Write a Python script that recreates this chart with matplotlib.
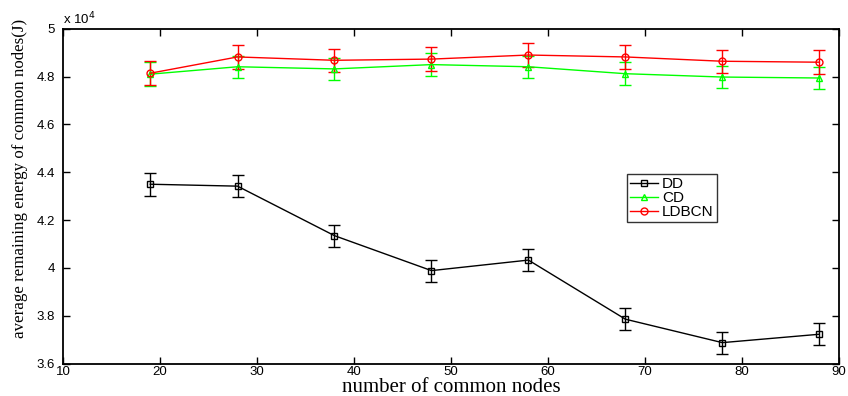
import numpy as np
import matplotlib.pyplot as plt
from matplotlib.ticker import FuncFormatter
from matplotlib.lines import Line2D

# === DANE ===
nodes = [19, 28, 38, 48, 58, 68, 78, 88]

dd = [43500, 43420, 41350, 39890, 40330, 37860, 36880, 37230]
dd_err = [480, 470, 460, 460, 460, 460, 460, 460]

cd = [48100, 48410, 48320, 48500, 48410, 48120, 47980, 47940]
cd_err = [490, 470, 470, 470, 470, 470, 470, 470]

ldbcn = [48140, 48820, 48680, 48730, 48900, 48820, 48640, 48600]
ldbcn_err = [500, 490, 490, 490, 490, 490, 490, 490]

series = [
    ("DD", dd, dd_err, "black", "s"),
    ("CD", cd, cd_err, "#00ff00", "^"),
    ("LDBCN", ldbcn, ldbcn_err, "red", "o"),
]

plt.rcParams['font.family'] = ['Liberation Sans', 'DejaVu Sans']

fig = plt.figure(figsize=(8.48, 3.96), dpi=100)
ax = fig.add_axes([0.0743, 0.0816, 0.9147, 0.8459])

handles = []
for label, vals, errs, color, marker in series:
    ax.errorbar(nodes, vals, yerr=errs, color=color, marker=marker,
                markersize=5, markerfacecolor='none', markeredgecolor=color,
                linewidth=1, elinewidth=1, capsize=4.5, capthick=1)
    handles.append(Line2D([], [], color=color, marker=marker, markersize=5,
                          markerfacecolor='none', linewidth=1, label=label))

ax.set_xlim(10, 90)
ax.set_ylim(36000, 50000)
ax.set_xticks(np.arange(10, 91, 10))
ax.set_yticks(np.arange(36000, 50001, 2000))
ax.yaxis.set_major_formatter(FuncFormatter(lambda v, p: f"{v / 1e4:g}"))
ax.tick_params(direction='in', top=True, right=True, length=5, width=1,
               labelsize=9.5)
ax.tick_params(axis='y', pad=6)
ax.tick_params(axis='x', pad=2)
for s in ax.spines.values():
    s.set_linewidth(1.3)

ax.text(0.0, 1.004, r"x 10$^4$", transform=ax.transAxes, fontsize=9.5,
        ha='left', va='bottom')

ax.set_xlabel("number of common nodes", family='Liberation Serif',
              fontsize=15)
ax.xaxis.set_label_coords(0.5, -0.043)
ax.set_ylabel("average remaining energy of common nodes(J)",
              family='Liberation Serif', fontsize=12.2)
ax.yaxis.set_label_coords(-0.045, 0.554)

leg = ax.legend(handles=handles, loc='upper left',
                bbox_to_anchor=(0.727, 0.566),
                fontsize=11, frameon=True, fancybox=False, edgecolor='black',
                borderpad=0.2, labelspacing=0.0, handlelength=1.85,
                handletextpad=0.25, borderaxespad=0)
leg.get_frame().set_linewidth(1)

plt.savefig("out.png", dpi=100)
